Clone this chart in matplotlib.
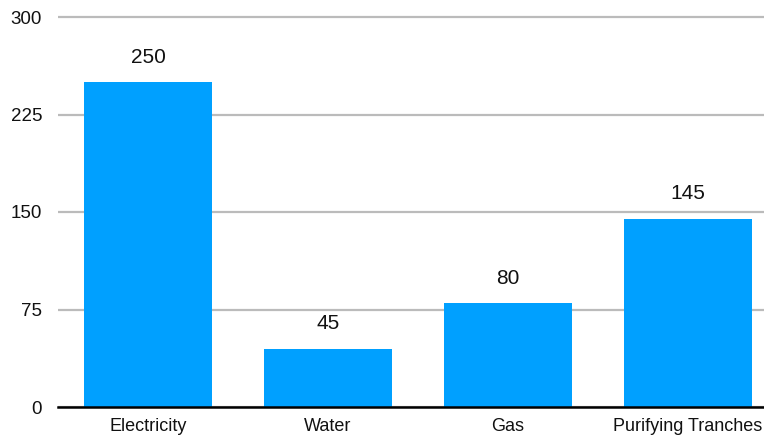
import numpy as np
import matplotlib.pyplot as plt

plt.rcParams['font.family'] = ['Liberation Sans', 'DejaVu Sans']
plt.rcParams['font.size'] = 12

categories = ['Electricity', 'Water', 'Gas', 'Purifying Tranches']
values = [250, 45, 80, 145]
yticks = [0, 75, 150, 225, 300]

fig = plt.figure(figsize=(7.64, 4.43), dpi=100)
# axes box in pixels: left 58, right 764, bottom 407, top ~13
ax = fig.add_axes([58/764, (443-407)/443, (764-58)/764, (407-13.1)/443])

x = np.arange(len(categories))
ax.bar(x, values, width=0.711, color='#00a0ff', zorder=2)

for xi, v in zip(x, values):
    ax.annotate(str(v), (xi, v), xytext=(0, 11), textcoords='offset points',
                ha='center', va='bottom', fontsize=15, color='#111111')

ax.set_xlim(-0.5, (764-148)/180)
ax.set_ylim(0, 303)
ax.set_yticks(yticks)
ax.set_xticks(x)
ax.set_xticklabels(categories, fontsize=13)
ax.grid(axis='y', color='#bbbbbb', linewidth=1.6, zorder=0)
ax.tick_params(axis='both', length=0, colors='#111111')
ax.tick_params(axis='y', pad=11.5, labelsize=13.5)
ax.tick_params(axis='x', pad=8)

for s in ['top', 'right', 'left']:
    ax.spines[s].set_visible(False)
ax.spines['bottom'].set_linewidth(1.8)
ax.spines['bottom'].set_color('black')
ax.spines['bottom'].set_zorder(3)

fig.savefig('out.png', dpi=100)
